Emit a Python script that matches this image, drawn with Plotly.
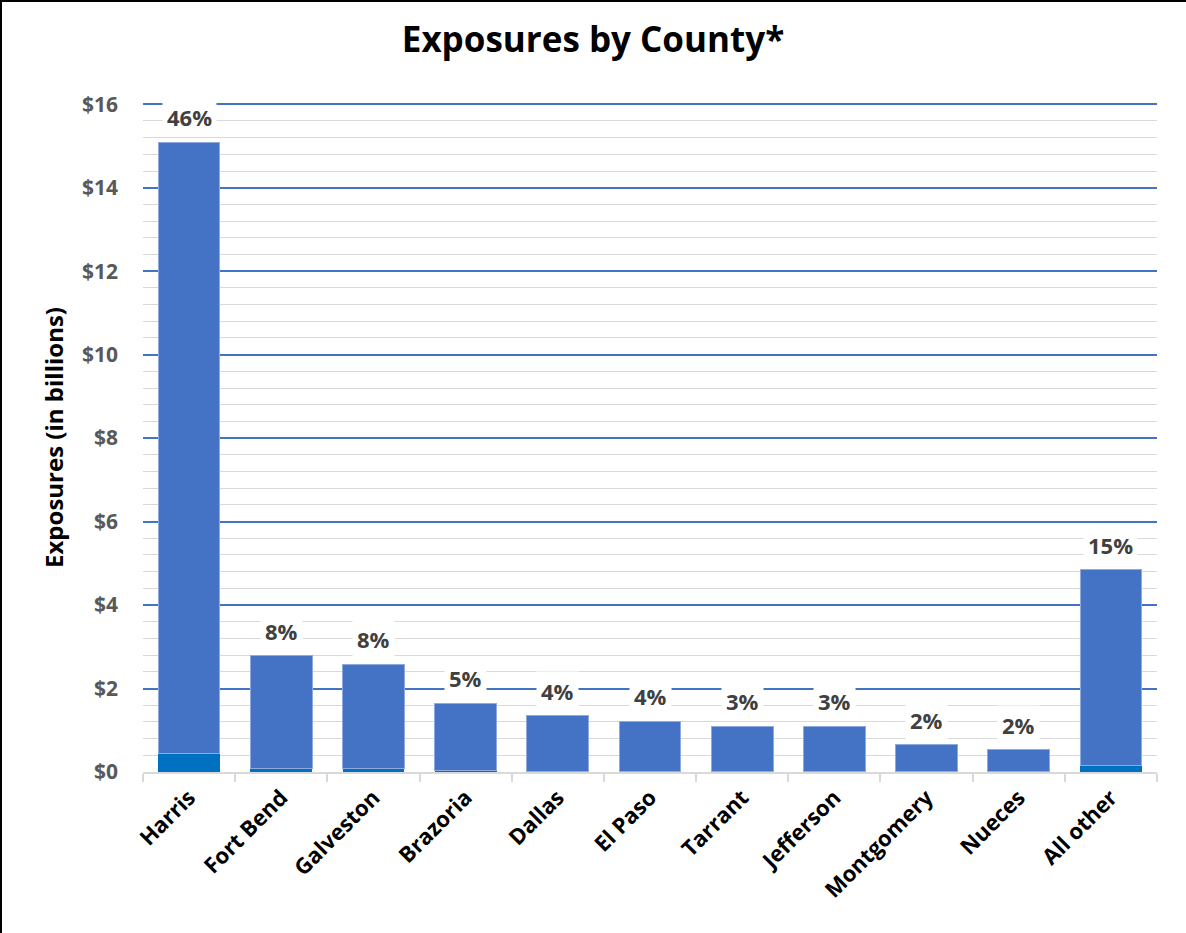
import plotly.graph_objects as go

counties = ["Harris", "Fort Bend", "Galveston", "Brazoria", "Dallas", "El Paso",
            "Tarrant", "Jefferson", "Montgomery", "Nueces", "All other"]
base_values = [0.45, 0.09, 0.08, 0.04, 0.02, 0.01, 0.01, 0.01, 0.01, 0.01, 0.15]
totals = [15.09, 2.78, 2.58, 1.65, 1.35, 1.22, 1.10, 1.10, 0.65, 0.53, 4.85]
upper_values = [t - b for t, b in zip(totals, base_values)]
pct_labels = ["46%", "8%", "8%", "5%", "4%", "4%", "3%", "3%", "2%", "2%", "15%"]
y_ticks = [0, 2, 4, 6, 8, 10, 12, 14, 16]
y_tick_text = ["$" + str(v) for v in y_ticks]

FONT = "Open Sans"

fig = go.Figure()
fig.add_trace(go.Bar(x=counties, y=base_values, marker=dict(color="#0070C0", line=dict(width=0)),
                     hoverinfo="skip", showlegend=False))
fig.add_trace(go.Bar(x=counties, y=upper_values,
                     marker=dict(color="#4472C4", line=dict(color="#8FAADC", width=1)),
                     showlegend=False))

for c, t, p in zip(counties, totals, pct_labels):
    fig.add_annotation(x=c, y=t, text="<b>" + p + "</b>", showarrow=False,
                       yshift=25, bgcolor="white", borderpad=4,
                       font=dict(family=FONT, size=22, color="#404040"))

L, R, T, B = 143, 29, 103, 161
W, H = 1186, 933
pw, ph = W - L - R, H - T - B

# frame lines (top and left edges of the screenshot)
fig.add_shape(type="line", xref="paper", yref="paper",
              x0=(0 - L) / pw, x1=(W - L) / pw, y0=(H - B - 1) / ph, y1=(H - B - 1) / ph,
              line=dict(color="black", width=2))
fig.add_shape(type="line", xref="paper", yref="paper",
              x0=(1 - L) / pw, x1=(1 - L) / pw, y0=(H - B - 0) / ph, y1=(H - B - H) / ph,
              line=dict(color="black", width=2))

fig.update_layout(
    barmode="stack",
    bargap=0.33,
    width=W, height=H,
    margin=dict(l=L, r=R, t=T, b=B, autoexpand=False),
    paper_bgcolor="white", plot_bgcolor="white",
    title=dict(text="<b>Exposures by County*</b>", x=0.5, xanchor="center",
               y=1 - 40 / H, yanchor="middle",
               font=dict(family=FONT, size=35, color="black")),
    font=dict(family=FONT),
    xaxis=dict(showline=True, linecolor="#D9D9D9", linewidth=2,
               ticks="outside", tickson="boundaries", ticklen=8, tickcolor="#D9D9D9",
               tickwidth=2, tickangle=-45, automargin=False,
               tickvals=counties, ticktext=["<b>" + c + "</b>" for c in counties],
               tickfont=dict(family=FONT, size=22, color="black"),
               showgrid=False, ticklabelstandoff=2),
    yaxis=dict(range=[0, 16.03], tickvals=y_ticks, ticktext=["<b>" + s + "</b>" for s in y_tick_text],
               tickfont=dict(family=FONT, size=21, color="#595959"),
               showgrid=True, gridcolor="#4472C4", gridwidth=2,
               minor=dict(tickvals=[i * 0.4 for i in range(41)], showgrid=True,
                          gridcolor="#D9D9D9", gridwidth=1),
               zeroline=False, showline=False, ticks="", ticklabelstandoff=24,
               automargin=False,
               title=dict(text="<b>Exposures (in billions)</b>",
                          font=dict(family=FONT, size=24, color="black"), standoff=11)),
)

fig.write_html("out.html", config={"displayModeBar": False},
               post_script="document.body.style.margin='0';document.body.style.overflow='hidden';")
